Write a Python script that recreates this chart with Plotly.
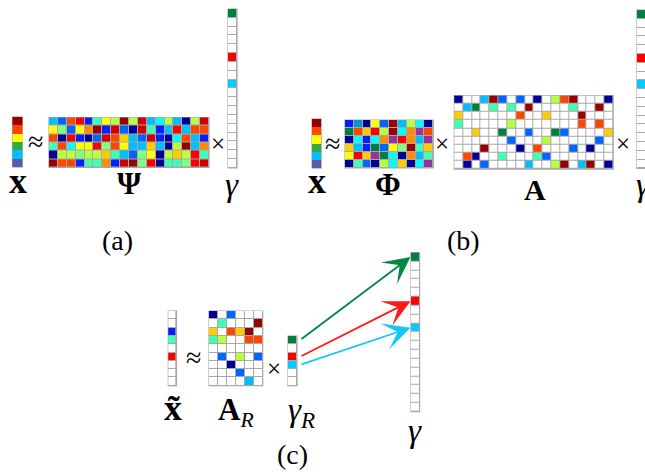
import plotly.graph_objects as go

# ---------------- colour codes ----------------
PALETTE = {
    "W": "#FFFFFF", "DR": "#990000", "CR": "#D00000", "R": "#FF0000",
    "OR": "#FF4500", "O": "#FF8C00", "GD": "#FFCC00", "Y": "#FFFF00",
    "YG": "#B8FF40", "LG": "#80FF80", "AQ": "#40FFB4", "CY": "#00FFFF",
    "SK": "#00BFFF", "CS": "#00CCFF", "BL": "#0066FF", "B2": "#0020FF",
    "DB": "#000099", "G": "#008040", "P": "#993399", "MG": "#33AA44",
    "SB": "#5A5AAA", "CB": "#0099CC",
}
CODES = list(PALETTE)

# ---------------- data (matrices of colour codes) ----------------
x_vec = ["DR", "OR", "Y", "MG", "SK", "SB"]

psi = [
    "SK BL OR R B2 AQ Y YG DR YG CR SK CY YG SK DB YG CR".split(),
    "Y LG BL Y O DR B2 CR BL DB CR AQ B2 SK R SK OR OR".split(),
    "OR DB R B2 DB BL CR OR GD SK BL CR B2 DB CY OR SK B2".split(),
    "AQ OR CY Y Y R LG OR Y SK SK GD SK DB YG DR SK O".split(),
    "DB YG YG LG YG YG GD AQ SK BL LG Y DB YG GD YG R AQ".split(),
    "DR OR OR B2 AQ AQ O B2 CR DR LG R DB AQ AQ LG R CR".split(),
]

gamma = ["G", "W", "W", "W", "W", "R", "W", "W", "CS",
         "W", "W", "W", "W", "W", "W", "W", "W", "W"]

phi = [
    "B2 CB DB Y BL DR SK YG CY DB".split(),
    "G OR GD R YG DR CY O P OR".split(),
    "DB CY B2 CY O P R O SK P".split(),
    "GD SK B2 G BL Y LG DR AQ GD".split(),
    "Y R GD P G CY DB O SK AQ".split(),
    "DB AQ BL DB YG CY GD DB CY P".split(),
]

A = [
    "DB W W SK DR BL W BL W DB W YG OR DR W W W DB".split(),
    "W SK G W AQ W AQ W DR W W W W AQ W W DR W".split(),
    "GD W W W W W W OR W W GD W W W DR W W W".split(),
    "AQ W W W W W YG W W W W W W W OR W OR W".split(),
    "W W GD W W G W W BL W W G BL W W W W GD".split(),
    "W W W W W W BL W W W YG W W W W W BL W".split(),
    "W W W DR W W W DB W OR W W W BL W DB W W".split(),
    "W OR DB W W AQ W W W AQ BL W W W W W W W".split(),
    "W DB W BL W W W W SK W W YG DR W SK DR W DB".split(),
]

x_tilde = ["W", "W", "B2", "AQ", "W", "R", "W", "W", "W"]

A_R = [
    "DB W BL W W W".split(),
    "W AQ W W W DR".split(),
    "GD W OR GD DR W".split(),
    "AQ YG W W OR OR".split(),
    "W W W W W W".split(),
    "W BL W YG W BL".split(),
    "W W DB W W W".split(),
    "W W W BL W W".split(),
    "W W W W SK W".split(),
]

gamma_R = ["G", "W", "R", "CS", "W", "W"]
gamma_R_support = [0, 2, 3]     # nonzero entries of gamma_R
gamma_support = [0, 5, 8]       # where they sit in gamma
arrow_colors = ["#008844", "#FF1A1A", "#14C8F5"]

# ---------------- helpers ----------------
N = len(CODES)
colorscale = [[i / (N - 1), PALETTE[c]] for i, c in enumerate(CODES)]
GRID = "#A8A8A8"

fig = go.Figure()
shapes = []


def add_matrix(mat, left, top, cw, ch, gap=1):
    rows = [[CODES.index(c) for c in r] for r in mat]
    nr, nc = len(rows), len(rows[0])
    shapes.append(dict(type="rect", layer="below", x0=left - 0.6, x1=left + nc * cw + 0.6,
                       y0=top - 0.6, y1=top + nr * ch + 0.6,
                       fillcolor=GRID, line=dict(width=0)))
    fig.add_trace(go.Heatmap(z=rows, x0=left + cw / 2, dx=cw, y0=top + ch / 2, dy=ch,
                             colorscale=colorscale, zmin=0, zmax=N - 1, showscale=False,
                             xgap=gap, ygap=gap, hoverinfo="skip"))


def col(v):
    return [[c] for c in v]


# (a)
add_matrix(col(x_vec), 12.5, 117, 9.5, 8.33, gap=0)
add_matrix(psi, 49, 117.5, 8.89, 8.33)
add_matrix(col(gamma), 228, 9, 9, 8.83)
# (b)
add_matrix(col(x_vec), 312, 119, 9.2, 8.17, gap=0)
add_matrix(phi, 345, 120, 8.83, 8.0)
add_matrix(A, 454.3, 95.7, 8.83, 8.15)
add_matrix(col(gamma), 637, 10, 9, 8.8)
# (c)
XT = dict(left=168.3, top=311, cw=8.2, ch=8.3)
add_matrix(col(x_tilde), XT["left"], XT["top"], XT["cw"], XT["ch"])
add_matrix(A_R, 209, 311, 8.95, 8.3)
GR = dict(left=288, top=336, cw=9, ch=8.28)
add_matrix(col(gamma_R), GR["left"], GR["top"], GR["cw"], GR["ch"])
GC = dict(left=411, top=252.7, cw=8.6, ch=8.83)
add_matrix(col(gamma), GC["left"], GC["top"], GC["cw"], GC["ch"])

annotations = []
for k, (ri, gi) in enumerate(zip(gamma_R_support, gamma_support)):
    annotations.append(dict(
        x=GC["left"] - 0.5, y=GC["top"] + (gi + 0.5) * GC["ch"],
        ax=GR["left"] + GR["cw"] + 3, ay=GR["top"] + (ri + 0.5) * GR["ch"],
        xref="x", yref="y", axref="x", ayref="y",
        showarrow=True, arrowhead=3, arrowsize=2.5, arrowwidth=1.8,
        arrowcolor=arrow_colors[k], text=""))

SERIF = "Liberation Serif, Times New Roman, serif"


def label(x, y, text, size):
    annotations.append(dict(x=x, y=y, xref="x", yref="y", text=text, showarrow=False,
                            xanchor="center", yanchor="middle",
                            font=dict(family=SERIF, size=size, color="black")))


# (a) labels
label(17.5, 181, "<b>x</b>", 36)
label(35, 141, "≈", 28)
label(129, 183, "<b>Ψ</b>", 31)
label(218, 143, "×", 25)
label(232, 185, "<i>γ</i>", 33)
label(117, 240, "(a)", 28)
# (b) labels
label(317, 181, "<b>x</b>", 36)
label(332, 143, "≈", 28)
label(388, 184, "<b>Φ</b>", 31)
label(442, 143, "×", 25)
label(535, 189, "<b>A</b>", 30)
label(623, 143, "×", 25)
label(643, 185, "<i>γ</i>", 33)
label(463, 240, "(b)", 28)
# (c) labels
label(172.5, 408, "<b>x̃</b>", 36)
label(193, 357, "≈", 28)
label(236, 412, "<b>A</b><sub><i>R</i></sub>", 31)
label(274, 368, "×", 25)
label(301, 412, "<i>γ</i><sub><i>R</i></sub>", 33)
label(415, 431, "<i>γ</i>", 33)
label(292, 454, "(c)", 28)

fig.update_layout(
    width=645, height=472, margin=dict(l=0, r=0, t=0, b=0),
    paper_bgcolor="white", plot_bgcolor="white",
    xaxis=dict(range=[0, 645], visible=False, fixedrange=True),
    yaxis=dict(range=[472, 0], visible=False, fixedrange=True),
    shapes=shapes, annotations=annotations, showlegend=False,
)
fig.write_html("out.html", config={"displayModeBar": False},
               post_script="document.body.style.margin='0';document.body.style.overflow='hidden';")
